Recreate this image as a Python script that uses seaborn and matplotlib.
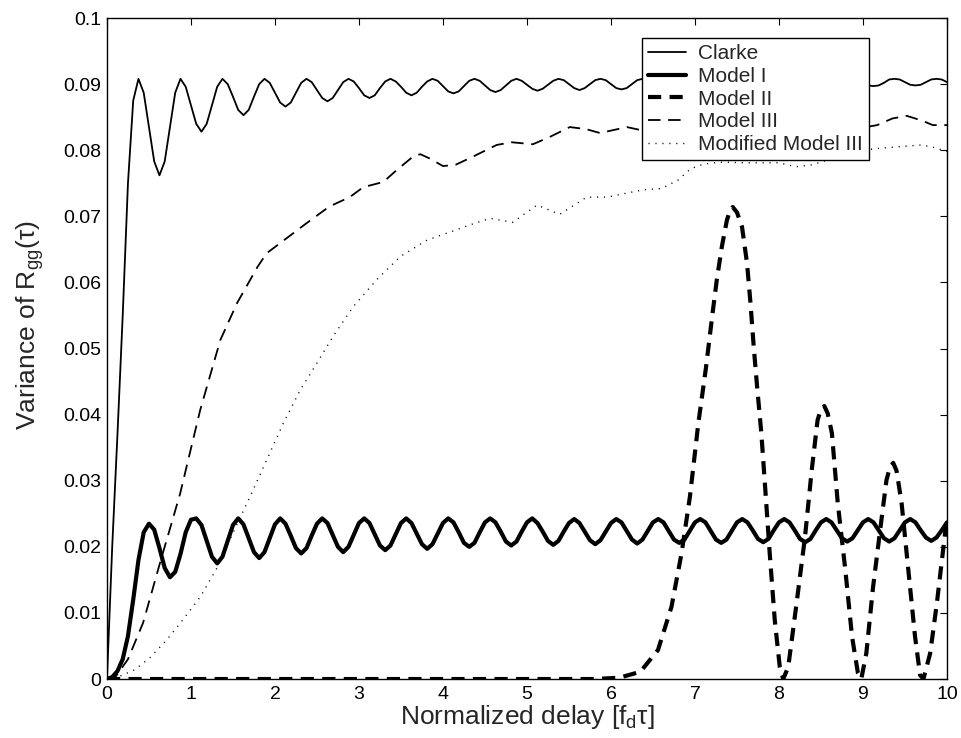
import numpy as np
import pandas as pd
import seaborn as sns
import matplotlib.pyplot as plt

# Values
delay = np.linspace(0, 10, 161)  # common sample grid (step 0.0625)

clarke = [
    0.0, 0.020, 0.037, 0.055, 0.075, 0.0875, 0.0908,
    0.0887, 0.0835, 0.0783, 0.0762, 0.0783, 0.0835, 0.0887, 0.0908,
    0.0896, 0.0868, 0.0840, 0.0828, 0.0840, 0.0868, 0.0896, 0.0908,
    0.0900, 0.0881, 0.0861, 0.0853, 0.0861, 0.0881, 0.0900, 0.0908,
    0.0902, 0.0887, 0.0872, 0.0866, 0.0872, 0.0887, 0.0902, 0.0908,
    0.0903, 0.0891, 0.0879, 0.0874, 0.0879, 0.0891, 0.0903, 0.0908,
    0.0904, 0.0894, 0.0883, 0.0879, 0.0883, 0.0894, 0.0904, 0.0908,
    0.0904, 0.0896, 0.0887, 0.0883, 0.0887, 0.0896, 0.0904, 0.0908,
    0.0905, 0.0897, 0.0889, 0.0886, 0.0889, 0.0897, 0.0905, 0.0908,
    0.0905, 0.0898, 0.0891, 0.0888, 0.0891, 0.0898, 0.0905, 0.0908,
    0.0905, 0.0899, 0.0893, 0.0890, 0.0893, 0.0899, 0.0905, 0.0908,
    0.0906, 0.0900, 0.0894, 0.0891, 0.0894, 0.0900, 0.0906, 0.0908,
    0.0906, 0.0900, 0.0894, 0.0892, 0.0894, 0.0900, 0.0906, 0.0908,
    0.0906, 0.0900, 0.0895, 0.0893, 0.0895, 0.0900, 0.0906, 0.0908,
    0.0906, 0.0901, 0.0896, 0.0894, 0.0896, 0.0901, 0.0906, 0.0908,
    0.0906, 0.0901, 0.0897, 0.0895, 0.0897, 0.0901, 0.0906, 0.0908,
    0.0907, 0.0902, 0.0898, 0.0896, 0.0898, 0.0902, 0.0907, 0.0908,
    0.0907, 0.0902, 0.0898, 0.0897, 0.0898, 0.0902, 0.0907, 0.0908,
    0.0907, 0.0902, 0.0898, 0.0897, 0.0898, 0.0902, 0.0907, 0.0908,
    0.0907, 0.0903, 0.0899, 0.0898, 0.0899, 0.0903, 0.0907, 0.0908,
    0.0907, 0.0903,
]

model1 = [
    0.0, 0.0003, 0.0012, 0.003, 0.0065, 0.012, 0.018, 0.0222, 0.0235,
    0.0226, 0.0198, 0.0168, 0.0154, 0.0162, 0.0189, 0.0222, 0.0241, 0.0243,
    0.0233, 0.0209, 0.0185, 0.0175, 0.0185, 0.0209, 0.0233, 0.0243,
    0.0234, 0.0213, 0.0192, 0.0183, 0.0192, 0.0213, 0.0234, 0.0243,
    0.0235, 0.0217, 0.0198, 0.0190, 0.0198, 0.0217, 0.0235, 0.0243,
    0.0236, 0.0218, 0.0200, 0.0192, 0.0200, 0.0218, 0.0236, 0.0243,
    0.0236, 0.0219, 0.0202, 0.0195, 0.0202, 0.0219, 0.0236, 0.0243,
    0.0236, 0.0220, 0.0204, 0.0197, 0.0204, 0.0220, 0.0236, 0.0243,
    0.0237, 0.0222, 0.0206, 0.0200, 0.0206, 0.0222, 0.0237, 0.0243,
    0.0237, 0.0223, 0.0208, 0.0202, 0.0208, 0.0223, 0.0237, 0.0243,
    0.0236, 0.0223, 0.0209, 0.0203, 0.0209, 0.0223, 0.0236, 0.0242,
    0.0236, 0.0223, 0.0210, 0.0204, 0.0210, 0.0223, 0.0236, 0.0242,
    0.0237, 0.0224, 0.0211, 0.0205, 0.0211, 0.0224, 0.0237, 0.0242,
    0.0237, 0.0224, 0.0211, 0.0206, 0.0211, 0.0224, 0.0237, 0.0242,
    0.0237, 0.0224, 0.0211, 0.0206, 0.0211, 0.0224, 0.0237, 0.0242,
    0.0237, 0.0225, 0.0212, 0.0207, 0.0212, 0.0225, 0.0237, 0.0242,
    0.0237, 0.0225, 0.0212, 0.0207, 0.0212, 0.0225, 0.0237, 0.0242,
    0.0237, 0.0225, 0.0213, 0.0208, 0.0213, 0.0225, 0.0237, 0.0242,
    0.0237, 0.0225, 0.0213, 0.0208, 0.0213, 0.0225, 0.0237, 0.0242,
    0.0237, 0.0225, 0.0214, 0.0209, 0.0214, 0.0225, 0.0237,
]

model2_x = [0, 1, 2, 3, 4, 5, 5.8, 6.1, 6.35, 6.56, 6.72, 6.84, 6.94, 7.04,
            7.13, 7.21, 7.26, 7.32, 7.38, 7.41, 7.45, 7.50, 7.56, 7.62, 7.66,
            7.70, 7.74, 7.79, 7.83, 7.89, 7.95, 8.01, 8.05, 8.11, 8.21, 8.31,
            8.39, 8.46, 8.50, 8.54, 8.58, 8.63, 8.70, 8.79, 8.87, 8.94, 8.98,
            9.04, 9.12, 9.22, 9.28, 9.32, 9.36, 9.40, 9.46, 9.54, 9.62, 9.68,
            9.72, 9.80, 9.88, 9.94, 10.0]
model2 = [0, 0, 0, 0, 0, 0, 0, 0.0002, 0.0011, 0.0044, 0.0109, 0.0190, 0.0276,
          0.0387, 0.0470, 0.0554, 0.0604, 0.0654, 0.0694, 0.0706, 0.0714,
          0.0706, 0.0684, 0.0629, 0.0570, 0.0502, 0.0442, 0.0372, 0.0300,
          0.0190, 0.0089, 0.0018, 0.0, 0.0018, 0.0115, 0.0215, 0.0316, 0.0392,
          0.0408, 0.0413, 0.0402, 0.0372, 0.0266, 0.0165, 0.0064, 0.0009, 0.0,
          0.0039, 0.0139, 0.0241, 0.0301, 0.0320, 0.0327, 0.0315, 0.0266,
          0.0165, 0.0064, 0.0006, 0.0, 0.0039, 0.0115, 0.0180, 0.0245]

model3_x = [0, 0.1, 0.25, 0.43, 0.63, 0.87, 1.11, 1.35, 1.55, 1.79, 1.9, 2.14,
            2.38, 2.65, 2.89, 3.05, 3.29, 3.45, 3.64, 3.73, 3.85, 4.0, 4.15,
            4.32, 4.64, 4.82, 5.07, 5.27, 5.51, 5.7, 5.87, 6.19, 6.37, 6.7,
            7.0, 7.5, 8.0, 8.5, 8.9, 9.17, 9.35, 9.52, 9.7, 9.83, 10.0]
model3 = [0, 0.0003, 0.003, 0.0085, 0.0175, 0.028, 0.0407, 0.0513, 0.0569,
          0.0623, 0.0644, 0.0667, 0.0690, 0.0715, 0.0729, 0.0744, 0.0752,
          0.0770, 0.0790, 0.0794, 0.0787, 0.0776, 0.0778, 0.0788, 0.0808,
          0.0812, 0.0809, 0.0820, 0.0835, 0.0832, 0.0826, 0.0835, 0.0830,
          0.0832, 0.0838, 0.0840, 0.0836, 0.0838, 0.0832, 0.0838, 0.0848,
          0.0852, 0.0845, 0.0838, 0.0838]

mod3_x = [0, 0.15, 0.33, 0.51, 0.71, 0.90, 1.11, 1.31, 1.50, 1.70, 1.90, 2.10,
          2.30, 2.50, 2.69, 2.93, 3.21, 3.49, 3.81, 4.08, 4.32, 4.56, 4.83,
          5.12, 5.39, 5.71, 5.95, 6.38, 6.6, 6.8, 6.95, 7.1, 7.3, 7.6, 8.0,
          8.2, 8.4, 8.7, 9.0, 9.2, 9.5, 9.7, 9.85, 10.0]
mod3 = [0, 0.0004, 0.0014, 0.0032, 0.0059, 0.0089, 0.0124, 0.0168, 0.0221,
        0.0275, 0.0331, 0.0387, 0.0437, 0.0478, 0.0518, 0.0563, 0.0604,
        0.0639, 0.0664, 0.0676, 0.0687, 0.0697, 0.0691, 0.0717, 0.0703,
        0.0729, 0.0729, 0.0740, 0.0742, 0.0755, 0.0772, 0.0779, 0.0782,
        0.0781, 0.0781, 0.0775, 0.0778, 0.0790, 0.0800, 0.0803, 0.0806,
        0.0808, 0.0804, 0.0798]

labels = ["Clarke", "Model I", "Model II", "Model III", "Modified Model III"]
xticks = list(range(11))
yticks = [0, 0.01, 0.02, 0.03, 0.04, 0.05, 0.06, 0.07, 0.08, 0.09, 0.1]
ytick_labels = ["0", "0.01", "0.02", "0.03", "0.04", "0.05", "0.06", "0.07",
                "0.08", "0.09", "0.1"]

sns.set_theme(style="white")
plt.rcParams["font.family"] = ["Liberation Sans", "DejaVu Sans"]
plt.rcParams["mathtext.default"] = "regular"
plt.rcParams["lines.scale_dashes"] = False

fig = plt.figure(figsize=(9.61, 7.38), dpi=100)
ax = fig.add_axes([0.1113, 0.0799, 0.8741, 0.8957])

series = [
    (delay, clarke, dict(lw=1.3, linestyle="-")),
    (delay, model1, dict(lw=3.0, linestyle="-")),
    (model2_x, model2, dict(lw=3.0, dashes=(9.5, 6.0))),
    (model3_x, model3, dict(lw=1.3, dashes=(9.0, 5.5))),
    (mod3_x, mod3, dict(lw=1.0, dashes=(0.8, 4.2))),
]
for (x, y, style), name in zip(series, labels):
    df = pd.DataFrame({"x": x, "y": y})
    sns.lineplot(data=df, x="x", y="y", ax=ax, color="black", label=name,
                 sort=False, **style)

ax.set_xlim(0, 10)
ax.set_ylim(0, 0.1)
ax.set_xticks(xticks)
ax.set_xticklabels([str(t) for t in xticks])
ax.set_yticks(yticks)
ax.set_yticklabels(ytick_labels)
ax.tick_params(direction="in", top=True, right=True, length=5, width=0.8,
               labelsize=14, colors="black")
ax.tick_params(axis="x", pad=5)
ax.tick_params(axis="y", pad=4)
for sp in ax.spines.values():
    sp.set_color("black")
    sp.set_linewidth(1.0)

ax.set_xlabel("Normalized delay [f$_{d}$τ]", fontsize=19, labelpad=0)
ax.set_ylabel("Variance of R$_{gg}$(τ)", fontsize=19)
ax.yaxis.set_label_coords(-0.072, 0.535)

leg = ax.legend(loc="upper left", bbox_to_anchor=(0.637, 0.970),
                fontsize=15, frameon=True, fancybox=False, framealpha=1,
                edgecolor="black", borderpad=0.3, labelspacing=0.18,
                handlelength=1.8, handletextpad=0.6, borderaxespad=0)
leg.get_frame().set_linewidth(1.0)

fig.savefig("out.png", dpi=100)
